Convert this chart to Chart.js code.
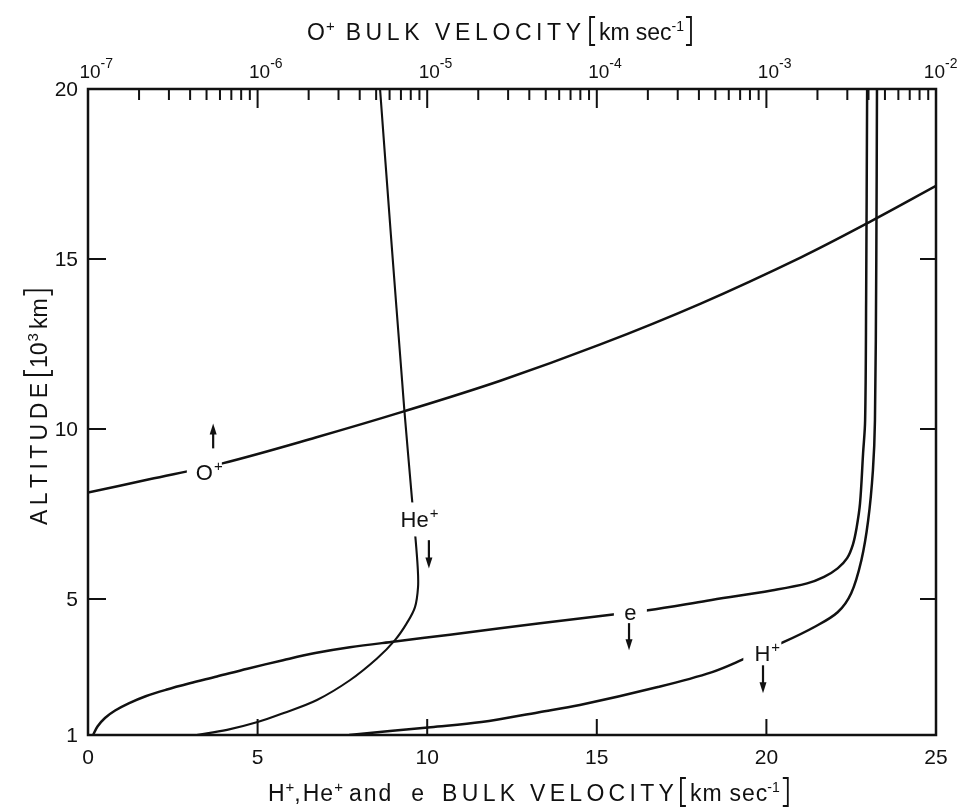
<!DOCTYPE html>
<html>
<head>
<meta charset="utf-8">
<script src="https://cdn.jsdelivr.net/npm/chart.js@4.4.1/dist/chart.umd.min.js"></script>
<style>
  body { margin: 0; background: #fff; }
  canvas { display: block; }
</style>
</head>
<body>
<canvas id="bulkChart" width="961" height="808"></canvas>
<script>
// altitude profiles, altitude in 10^3 km
// H+ , He+ and e on the bottom scale (km/s)
const hPlusVel = [7.7, 10.1, 11.6, 13.3, 14.5, 16.8, 18.4, 19.4, 20.5, 21.4, 22.1, 22.5, 22.8, 23.0, 23.14, 23.2, 23.24, 23.26];
const hPlusAlt = [1.0, 1.23, 1.38, 1.67, 1.88, 2.41, 2.85, 3.26, 3.73, 4.17, 4.61, 5.17, 6.14, 7.31, 8.78, 10.25, 15.0, 20.0];

const hePlusVel = [3.2, 4.1, 5.0, 5.75, 6.75, 7.72, 8.52, 9.05, 9.4, 9.64, 9.73, 9.72, 9.64, 9.55, 9.33, 9.26, 8.93, 8.61];
const hePlusAlt = [1.0, 1.15, 1.38, 1.64, 2.03, 2.61, 3.25, 3.79, 4.29, 4.76, 5.35, 5.93, 6.96, 7.96, 10.51, 11.42, 15.7, 20.0];

const elecVel = [0.15, 0.28, 0.5, 0.8, 1.2, 1.7, 2.3, 3.0, 3.8, 4.7, 5.75, 6.7, 7.72, 9.05, 10.67, 12.15, 13.33, 15.54, 16.51, 18.25, 20.19, 21.2, 21.7, 22.1, 22.38, 22.55, 22.66, 22.76, 22.85, 22.91, 22.94, 22.97];
const elecAlt = [1.0, 1.25, 1.5, 1.72, 1.93, 2.14, 2.33, 2.52, 2.72, 2.95, 3.2, 3.41, 3.58, 3.75, 3.95, 4.14, 4.29, 4.55, 4.67, 4.95, 5.26, 5.46, 5.65, 5.9, 6.2, 6.6, 7.1, 7.81, 9.28, 10.25, 13.77, 20.0];

// O+ on the top (log) scale (km/s)
const oPlusVel = [1e-7, 2.3e-7, 6.2e-7, 2.2e-6, 7.2e-6, 2.7e-5, 1.04e-4, 4.1e-4, 1.6e-3, 4.1e-3, 1e-2];
const oPlusAlt = [8.13, 8.52, 8.99, 9.75, 10.51, 11.42, 12.48, 13.69, 15.05, 16.10, 17.15];

// tick labels
const bottomTicks = [0, 5, 10, 15, 20, 25];
const leftTicks = [20, 15, 10, 5, 1];
const topDecades = [-7, -6, -5, -4, -3, -2];

// curve tags and direction arrows (bottom-axis units)
const tags = [
    { name: 'O', sup: '+', x: 3.43, y: 8.75, gapW: 35, gapH: 24 },
    { name: 'He', sup: '+', x: 9.63, y: 7.34, gapW: 40, gapH: 34 },
    { name: 'e', sup: '', x: 15.99, y: 4.63, gapW: 33, gapH: 22 },
    { name: 'H', sup: '+', x: 19.88, y: 3.42, gapW: 38, gapH: 24 }
];
const arrows = [
    { x: 3.69, from: 9.43, to: 10.16 },
    { x: 10.05, from: 6.73, to: 5.90 },
    { x: 15.95, from: 4.29, to: 3.49 },
    { x: 19.9, from: 3.05, to: 2.23 }
];

const FONT = '"Liberation Sans", Arial, sans-serif';
const INK = '#111';

function pts(xs, ys) {
    return xs.map((v, i) => ({ x: v, y: ys[i] }));
}

function bracket(ctx, x, base, open) {
    const top = base - 23, bot = base + 5, w = 5;
    ctx.save();
    ctx.lineWidth = 1.8;
    ctx.strokeStyle = INK;
    ctx.beginPath();
    if (open) {
        ctx.moveTo(x + w, top); ctx.lineTo(x, top); ctx.lineTo(x, bot); ctx.lineTo(x + w, bot);
    } else {
        ctx.moveTo(x, top); ctx.lineTo(x + w, top); ctx.lineTo(x + w, bot); ctx.lineTo(x, bot);
    }
    ctx.stroke();
    ctx.restore();
    return x + w;
}

// draws a run of text pieces left to right, char by char so spacing can be set
function run(ctx, x, base, parts) {
    ctx.textAlign = 'left';
    ctx.textBaseline = 'alphabetic';
    parts.forEach(p => {
        x += p.gap || 0;
        if (p.br) {
            x = bracket(ctx, x, base, p.br === '[');
            return;
        }
        ctx.font = (p.size || 23) + 'px ' + FONT;
        const sp = p.sp || 0;
        for (const ch of p.t) {
            ctx.fillText(ch, x, base - (p.up || 0));
            x += ctx.measureText(ch).width + sp;
        }
        x -= sp;
    });
    return x;
}

function arrow(ctx, x, y0, y1) {
    const dir = Math.sign(y1 - y0);
    ctx.beginPath();
    ctx.moveTo(x, y0);
    ctx.lineTo(x, y1 - dir * 8);
    ctx.stroke();
    ctx.beginPath();
    ctx.moveTo(x, y1);
    ctx.lineTo(x - 3.5, y1 - dir * 11);
    ctx.lineTo(x + 3.5, y1 - dir * 11);
    ctx.closePath();
    ctx.fill();
}

const frameAndText = {
    id: 'frameAndText',
    afterDatasetsDraw(chart) {
        const ctx = chart.ctx;
        const xs = chart.scales.x, ys = chart.scales.y;
        ctx.save();
        ctx.fillStyle = INK;
        ctx.strokeStyle = INK;

        // curve tags sit in gaps cut out of the lines
        tags.forEach(tg => {
            const cx = xs.getPixelForValue(tg.x), cy = ys.getPixelForValue(tg.y);
            ctx.fillStyle = '#fff';
            ctx.fillRect(cx - tg.gapW / 2, cy - tg.gapH / 2, tg.gapW, tg.gapH);
            ctx.fillStyle = INK;
            ctx.font = '22px ' + FONT;
            const w = ctx.measureText(tg.name).width;
            run(ctx, cx - w / 2, cy + 8, [{ t: tg.name, size: 22 }, { t: tg.sup, size: 15, up: 9, gap: 1 }]);
        });

        ctx.lineWidth = 2.2;
        arrows.forEach(a => {
            arrow(ctx, xs.getPixelForValue(a.x), ys.getPixelForValue(a.from), ys.getPixelForValue(a.to));
        });
        ctx.restore();
    },
    afterDraw(chart) {
        const ctx = chart.ctx;
        const { left, right, top, bottom } = chart.chartArea;
        const xs = chart.scales.x, x2 = chart.scales.x2, ys = chart.scales.y;
        ctx.save();
        ctx.strokeStyle = INK;
        ctx.fillStyle = INK;

        // frame
        ctx.lineWidth = 2.5;
        ctx.strokeRect(left, top, right - left, bottom - top);

        // inward ticks
        ctx.lineWidth = 2;
        ctx.beginPath();
        [5, 10, 15].forEach(v => {
            const y = ys.getPixelForValue(v);
            ctx.moveTo(left, y); ctx.lineTo(left + 18, y);
            ctx.moveTo(right, y); ctx.lineTo(right - 16, y);
        });
        [5, 10, 15, 20].forEach(v => {
            const x = xs.getPixelForValue(v);
            ctx.moveTo(x, bottom); ctx.lineTo(x, bottom - 16);
        });
        topDecades.forEach((d, i) => {
            if (i > 0 && i < topDecades.length - 1) {
                const x = x2.getPixelForValue(Math.pow(10, d));
                ctx.moveTo(x, top); ctx.lineTo(x, top + 19);
            }
            if (i < topDecades.length - 1) {
                for (let k = 2; k <= 9; k++) {
                    const x = x2.getPixelForValue(k * Math.pow(10, d));
                    ctx.moveTo(x, top); ctx.lineTo(x, top + 11);
                }
            }
        });
        ctx.stroke();

        // tick labels
        ctx.font = '21px ' + FONT;
        ctx.textBaseline = 'middle';
        ctx.textAlign = 'center';
        bottomTicks.forEach(v => ctx.fillText(String(v), xs.getPixelForValue(v), bottom + 23));
        ctx.textAlign = 'right';
        leftTicks.forEach(v => ctx.fillText(String(v), left - 10, ys.getPixelForValue(v) + 1));

        topDecades.forEach(d => {
            const x = x2.getPixelForValue(Math.pow(10, d));
            ctx.font = '19px ' + FONT;
            const w = ctx.measureText('10').width;
            // keep the last label inside the canvas
            const x0 = Math.min(x - w / 2 + 2, chart.width - w - 16);
            run(ctx, x0, top - 11, [{ t: '10', size: 19 }, { t: '-' + (-d), size: 14, up: 10, gap: 0 }]);
        });

        // axis titles
        run(ctx, 307, 40, [
            { t: 'O' }, { t: '+', size: 15, up: 9, gap: 1 },
            { t: 'BULK VELOCITY', sp: 4.6, gap: 11 },
            { br: '[', gap: 9 }, { t: 'km', gap: 4 },
            { t: 'sec', gap: 6 }, { t: '-1', size: 14, up: 9 },
            { br: ']', gap: 2 }
        ]);
        run(ctx, 268, 801, [
            { t: 'H' }, { t: '+', size: 15, up: 9, gap: 1 }, { t: ',' },
            { t: 'He', sp: 1, gap: 2 }, { t: '+', size: 15, up: 9, gap: 1 },
            { t: 'and', sp: 2, gap: 6 }, { t: 'e', gap: 20 },
            { t: 'BULK VELOCITY', sp: 4.3, gap: 18 },
            { br: '[', gap: 7 }, { t: 'km', sp: 1, gap: 4 },
            { t: 'sec', sp: 1, gap: 8 }, { t: '-1', size: 14, up: 9 },
            { br: ']', gap: 3 }
        ]);

        ctx.translate(47, 405);
        ctx.rotate(-Math.PI / 2);
        run(ctx, -120, 0, [
            { t: 'ALTITUDE', sp: 4.4 },
            { br: '[', gap: 8 }, { t: '10', gap: 2 },
            { t: '3', size: 15, up: 9, gap: 1 }, { t: 'km', gap: 4 },
            { br: ']', gap: 3 }
        ]);
        ctx.restore();
    }
};

const lineStyle = {
    showLine: true,
    pointRadius: 0,
    borderColor: INK,
    backgroundColor: INK,
    borderWidth: 2.5,
    tension: 0.35,
    fill: false
};

const chart = new Chart(document.getElementById('bulkChart'), {
    type: 'scatter',
    data: {
        datasets: [
            { ...lineStyle, label: 'H+', data: pts(hPlusVel, hPlusAlt), xAxisID: 'x' },
            { ...lineStyle, label: 'He+', data: pts(hePlusVel, hePlusAlt), xAxisID: 'x', borderWidth: 2.1 },
            { ...lineStyle, label: 'e', data: pts(elecVel, elecAlt), xAxisID: 'x' },
            { ...lineStyle, label: 'O+', data: pts(oPlusVel, oPlusAlt), xAxisID: 'x2' }
        ]
    },
    options: {
        responsive: false,
        animation: false,
        layout: {
            padding: { left: 88, right: 25, top: 89, bottom: 73 }
        },
        plugins: {
            legend: { display: false },
            tooltip: { enabled: false }
        },
        scales: {
            x: { type: 'linear', min: 0, max: 25, display: false },
            x2: { type: 'logarithmic', position: 'top', min: 1e-7, max: 1e-2, display: false },
            y: { type: 'linear', min: 1, max: 20, display: false }
        }
    },
    plugins: [frameAndText]
});
</script>
</body>
</html>
